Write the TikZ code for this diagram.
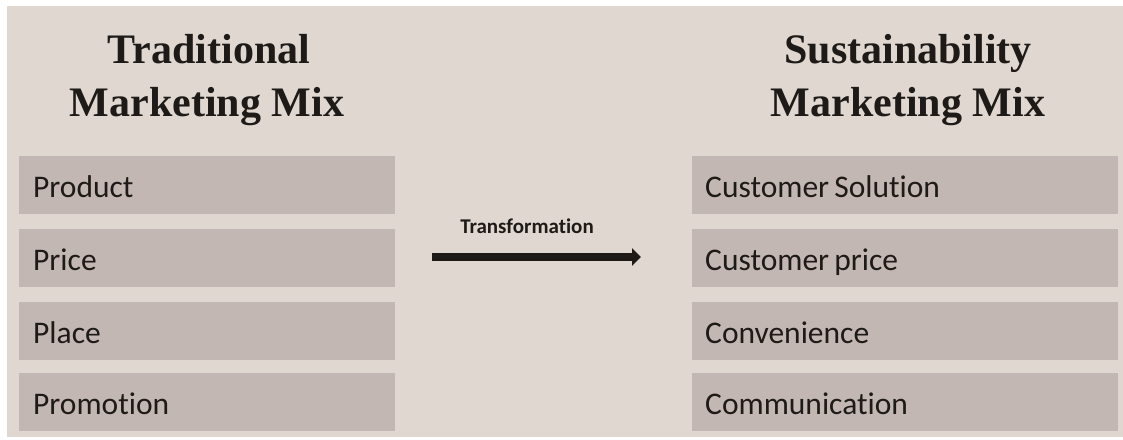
\documentclass[tikz,border=0pt]{standalone}
\usepackage{fontspec}
\setmainfont{Liberation Serif}
\newfontfamily\bodyfont[Ligatures=NoCommon]{Carlito}
\usetikzlibrary{arrows.meta}
\definecolor{bgc}{RGB}{224,216,208}
\definecolor{boxc}{RGB}{195,183,179}
\definecolor{inkc}{RGB}{30,26,24}
\tikzset{
  itembox/.style={fill=boxc, draw=none, inner sep=0pt, minimum height=58pt, anchor=north west},
  itemtext/.style={font=\bodyfont\fontsize{31.5}{36}\selectfont, text=inkc, anchor=base west, inner sep=0pt},
  titletext/.style={font=\bfseries\fontsize{42}{52}\selectfont, text=inkc, align=center, anchor=base, inner sep=0pt},
}
\begin{document}
\begin{tikzpicture}[x=1pt,y=-1pt]
\useasboundingbox (0,0) rectangle (1123,439);
\fill[white] (0,0) rectangle (1123,439);
\fill[bgc] (7,6) rectangle (1123,437);
% titles
\node[titletext] (tl1) at (209,63) {Traditional};
\node[titletext] (tl2) at (207,116) {Marketing Mix};
\node[titletext] (tr1) at (908,63) {Sustainability};
\node[titletext] (tr2) at (908,116) {Marketing Mix};
% left boxes
\node[itembox, minimum width=376pt] (lb1) at (19,156) {};
\node[itembox, minimum width=376pt] (lb2) at (19,229) {};
\node[itembox, minimum width=376pt] (lb3) at (19,302) {};
\node[itembox, minimum width=376pt] (lb4) at (19,373) {};
\node[itemtext] (lt1) at (33,197) {Product};
\node[itemtext] (lt2) at (33,270) {Price};
\node[itemtext] (lt3) at (33,343) {Place};
\node[itemtext] (lt4) at (33,414) {Promotion};
% right boxes
\node[itembox, minimum width=426pt] (rb1) at (692,156) {};
\node[itembox, minimum width=426pt] (rb2) at (692,229) {};
\node[itembox, minimum width=426pt] (rb3) at (692,302) {};
\node[itembox, minimum width=426pt] (rb4) at (692,373) {};
\node[itemtext] (rt1) at (705,197) {Customer\hspace{-2pt} Solution};
\node[itemtext] (rt2) at (705,270) {Customer\hspace{-2pt} price};
\node[itemtext] (rt3) at (705,343) {Convenience};
\node[itemtext] (rt4) at (705,414) {Communication};
% arrow
\coordinate (a1) at (432,257);
\coordinate (a2) at (641,257);
\draw[line width=7.5pt, inkc, -{Triangle[length=9pt,width=17pt]}] (a1) -- (a2);
\node[font=\bodyfont\bfseries\fontsize{21}{24}\selectfont, text=inkc, anchor=base, inner sep=0pt] (tf) at (527,233) {Transformation};
\end{tikzpicture}
\end{document}
